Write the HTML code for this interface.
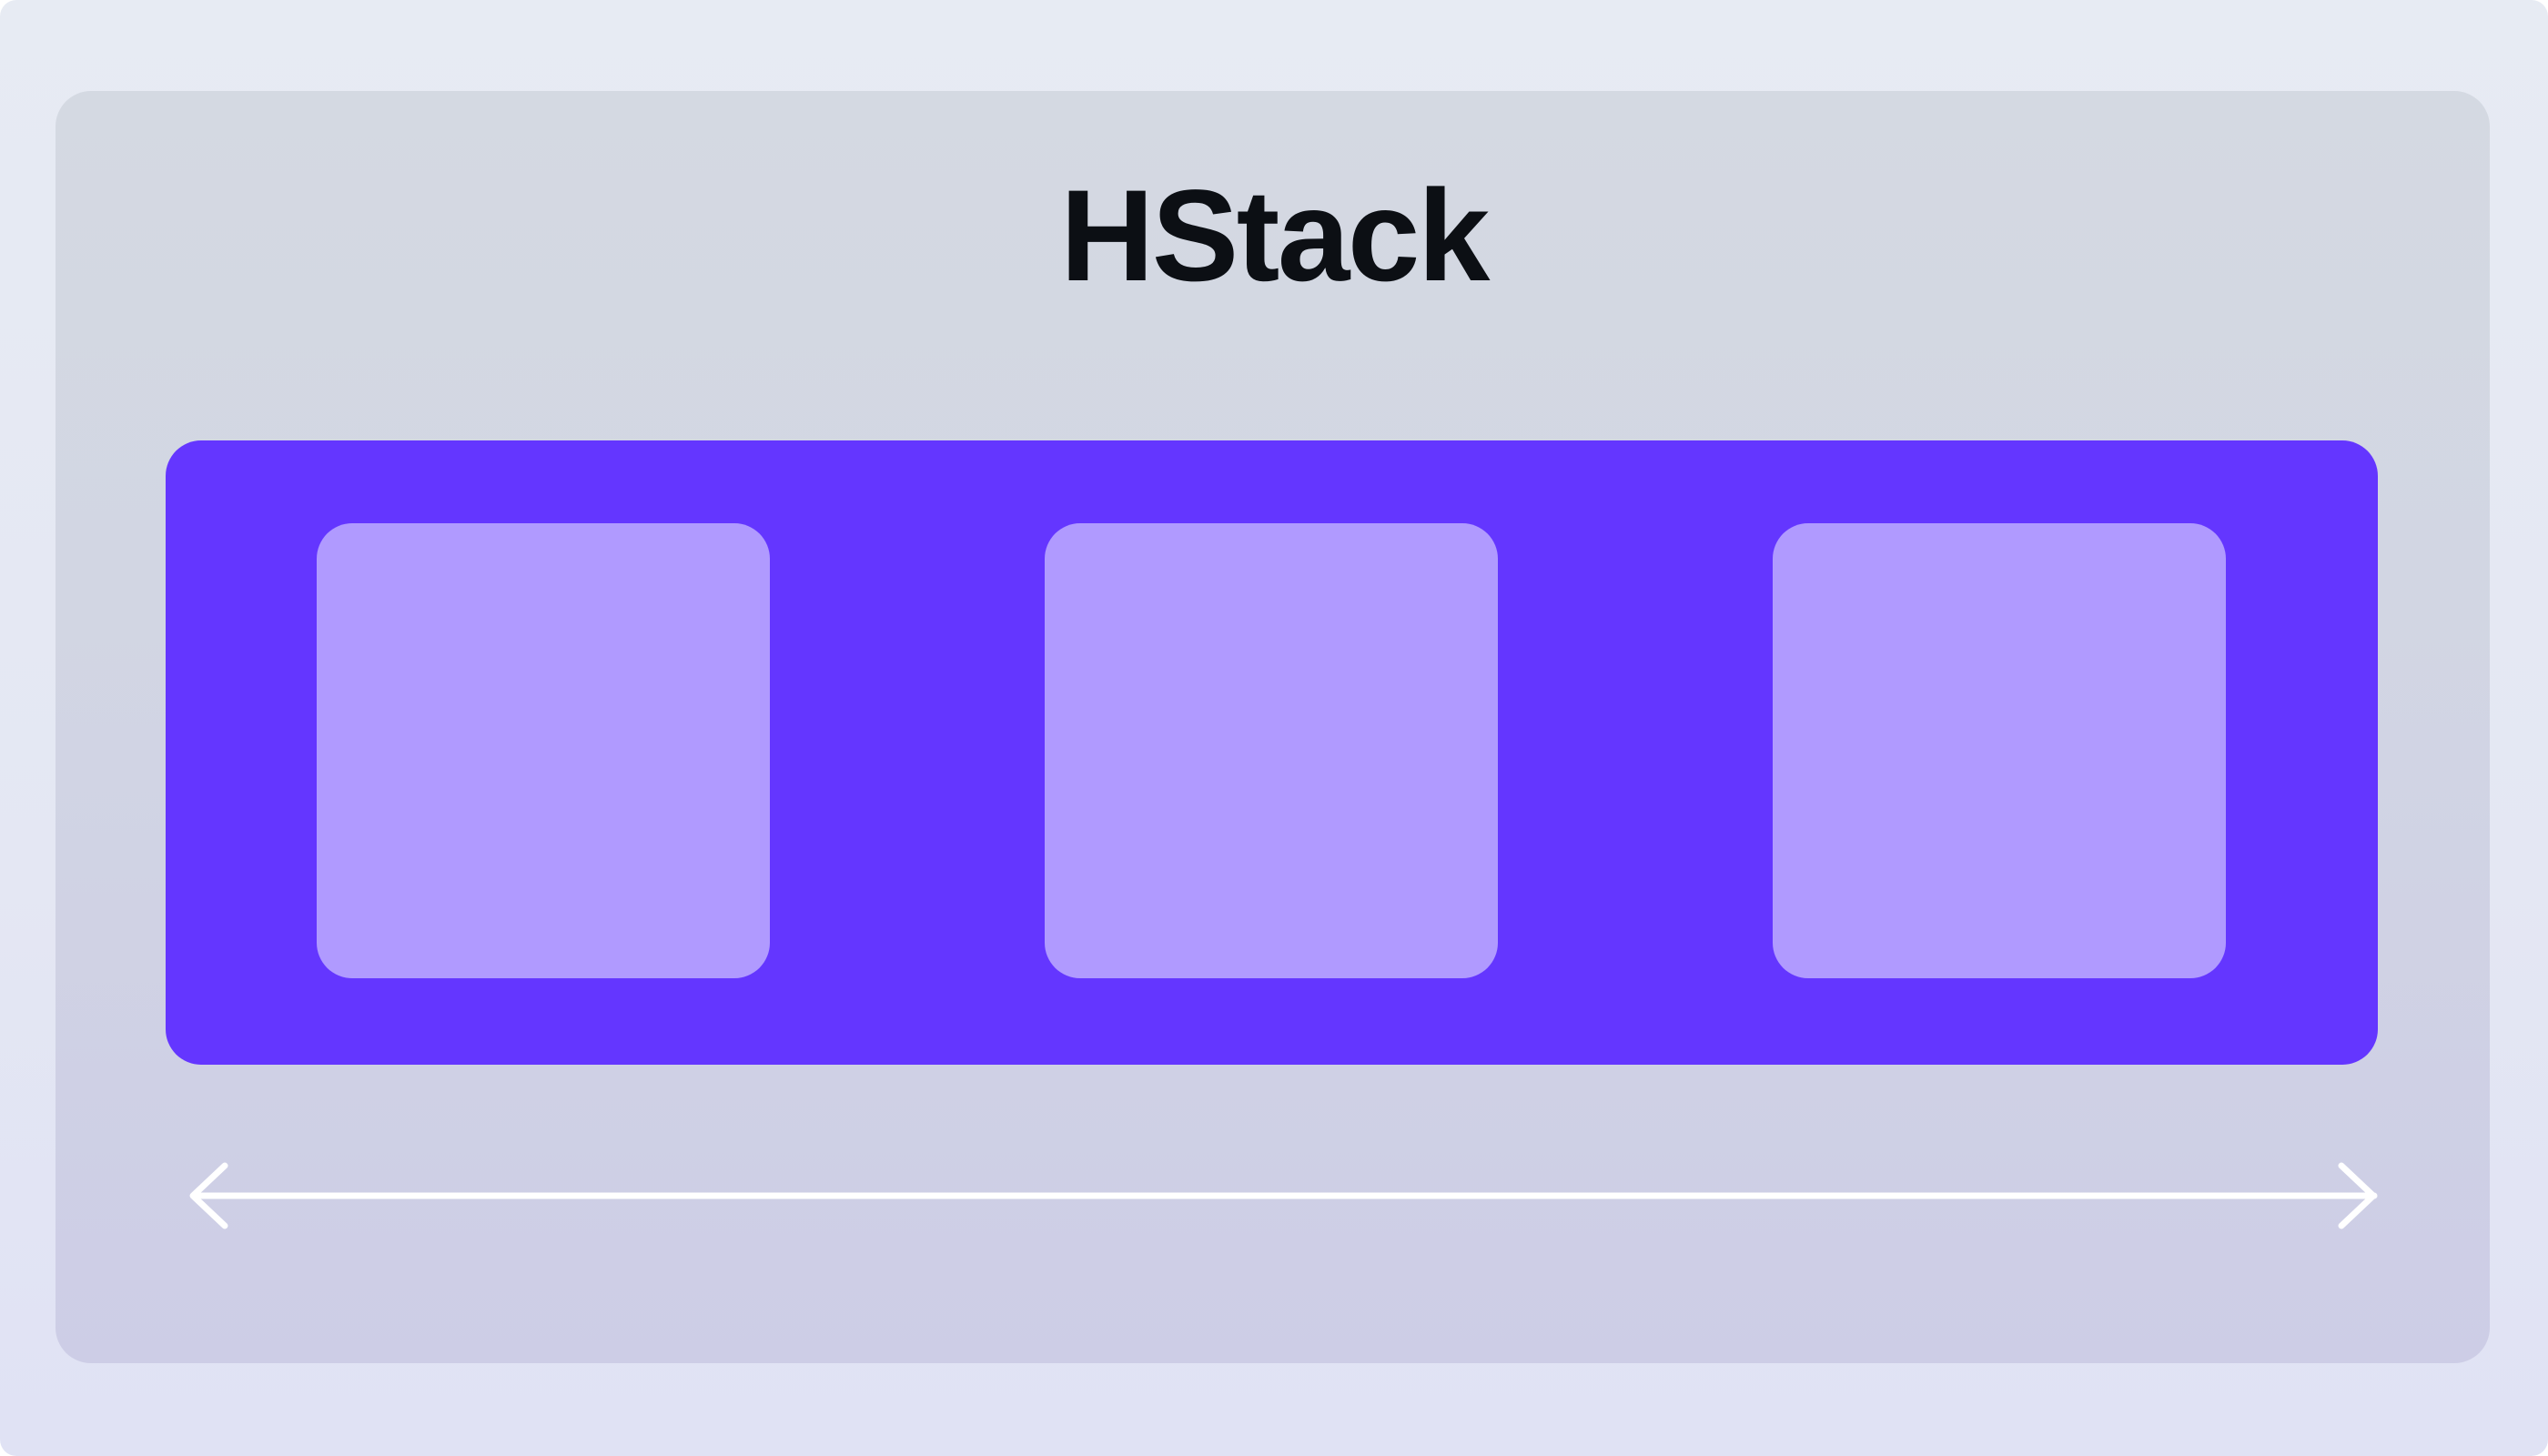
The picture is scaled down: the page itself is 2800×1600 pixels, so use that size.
<!DOCTYPE html>
<html><head><meta charset="utf-8"><style>
html,body{margin:0;padding:0}
body{width:2800px;height:1600px;position:relative;overflow:hidden;background:#fff}
.bg{position:absolute;left:0;top:0;width:2800px;height:1600px;border-radius:18px;background:linear-gradient(180deg,#e7ebf3 0%,#e4e7f3 60%,#e0e2f4 100%)}
.panel{position:absolute;left:61px;top:100px;width:2675px;height:1398px;border-radius:39px;background:linear-gradient(180deg,#d4d9e2 0%,#d2d6e3 40%,#cdcde6 100%)}
.title{position:absolute;left:0;width:2800px;top:180px;text-align:center;font-family:"Liberation Sans",sans-serif;font-weight:bold;font-size:143px;line-height:160px;color:#0c0f14;letter-spacing:-2.5px}
.stack{position:absolute;left:182px;top:484px;width:2431px;height:686px;border-radius:39px;background:#6436ff}
.item{position:absolute;top:575px;width:498px;height:500px;border-radius:39px;background:#b09aff}
svg{position:absolute;left:0;top:0}
</style></head><body>
<div class="bg"></div>
<div class="panel"></div>
<div class="title">HStack</div>
<div class="stack"></div>
<div class="item" style="left:348px"></div>
<div class="item" style="left:1148px"></div>
<div class="item" style="left:1948px"></div>
<svg width="2800" height="1600">
<g stroke="#fff" stroke-width="7" stroke-linecap="round" stroke-linejoin="round" fill="none">
<line x1="213" y1="1314" x2="2609" y2="1314"/>
<polyline points="247,1281 212,1314 247,1347"/>
<polyline points="2573,1281 2608,1314 2573,1347"/>
</g>
</svg>
</body></html>
